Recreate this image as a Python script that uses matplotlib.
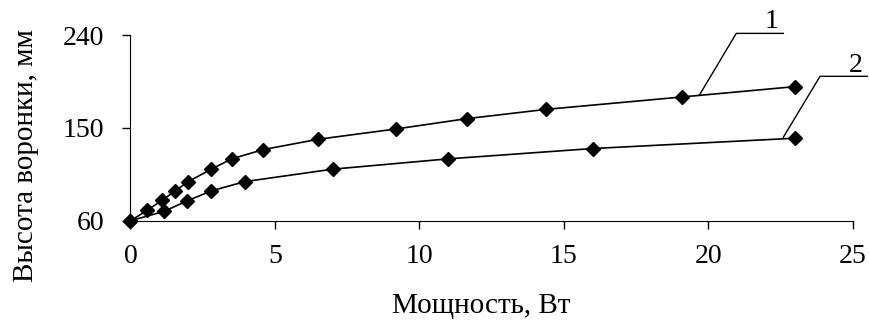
import numpy as np
import matplotlib
matplotlib.use("Agg")
import matplotlib.pyplot as plt

plt.rcParams['font.family'] = ['Liberation Serif', 'DejaVu Serif']

# кривая 1
power_1 = [0, 0.57, 1.1, 1.55, 2.0, 2.8, 3.5, 4.6, 6.5, 9.2, 11.65, 14.4, 19.1, 23.0]
height_1 = [60, 70, 80, 89, 98, 110, 120, 129, 139, 149, 159, 168, 180, 190]

# кривая 2
power_2 = [0, 1.15, 1.94, 2.8, 3.97, 7.0, 11.0, 16.0, 23.0]
height_2 = [60, 69, 79, 89, 98, 110, 120, 130, 140]

x_ticks = [0, 5, 10, 15, 20, 25]
y_ticks = [60, 150, 240]

fig = plt.figure(figsize=(8.7, 3.29), dpi=100)
ax = fig.add_axes([0.15, 0.329, 0.8301, 0.5645])

ax.plot(power_1, height_1, 'k-', lw=1.2, marker='D', ms=6.8, clip_on=False, zorder=3)
ax.plot(power_2, height_2, 'k-', lw=1.2, marker='D', ms=6.8, clip_on=False, zorder=3)

# выноски с номерами кривых
ax.plot([19.69, 20.97, 22.6], [181.6, 241.6, 241.6], 'k-', lw=1.0, clip_on=False)
ax.text(22.2, 241, '1', fontsize=20, ha='center', va='bottom')
ax.plot([22.6, 23.87, 25.5], [141, 200, 200], 'k-', lw=1.0, clip_on=False)
ax.text(25.1, 198, '2', fontsize=20, ha='center', va='bottom')

ax.set_xlim(0, 25)
ax.set_ylim(60, 240)
ax.set_xticks(x_ticks)
ax.set_yticks(y_ticks)
ax.spines['top'].set_visible(False)
ax.spines['right'].set_visible(False)
ax.tick_params(direction='out', length=6, width=1, labelsize=20)
ax.tick_params(axis='x', pad=11)
ax.tick_params(axis='y', pad=13)

ax.set_xlabel('Мощность, Вт', fontsize=21)
ax.set_ylabel('Высота воронки, мм', fontsize=21)
ax.xaxis.set_label_coords(0.486, -0.39)
ax.yaxis.set_label_coords(-0.127, 0.35)

fig.savefig('out.png', dpi=100)
